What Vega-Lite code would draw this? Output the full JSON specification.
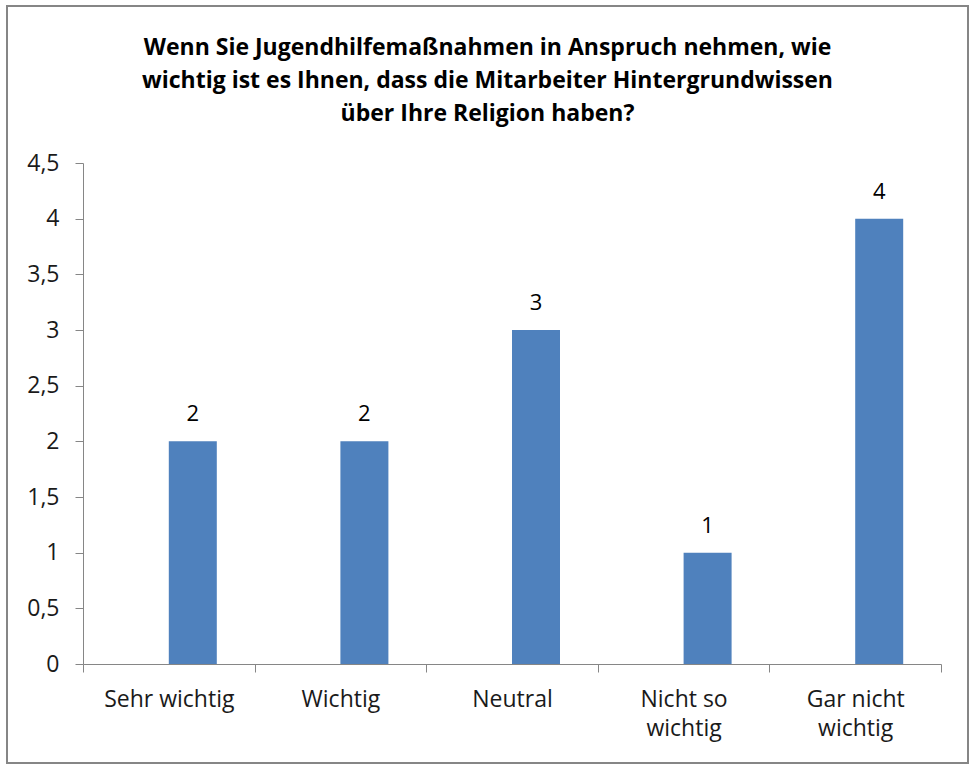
{
  "$schema": "https://vega.github.io/schema/vega-lite/v6.json",
  "width": 961,
  "height": 757,
  "autosize": {"type": "none"},
  "padding": {"left": 7, "top": 6, "right": 2, "bottom": 2},
  "background": "white",
  "title": {
    "text": ["Wenn Sie Jugendhilfemaßnahmen in Anspruch nehmen, wie", "wichtig ist es Ihnen, dass die Mitarbeiter Hintergrundwissen", "über Ihre Religion haben?"],
    "anchor": "middle",
    "frame": "group",
    "orient": "top",
    "font": "Open Sans",
    "fontSize": 23,
    "fontWeight": "bold",
    "color": "#000000",
    "lineHeight": 33,
    "baseline": "top",
    "offset": -120
  },
  "config": {"view": {"stroke": "#868686", "strokeWidth": 2}},
  "data": {"values": [
    {"kategorie": "Sehr wichtig", "reihe": "Anzahl", "wert": 2},
    {"kategorie": "Wichtig", "reihe": "Anzahl", "wert": 2},
    {"kategorie": "Neutral", "reihe": "Anzahl", "wert": 3},
    {"kategorie": "Nicht so wichtig", "reihe": "Anzahl", "wert": 1},
    {"kategorie": "Gar nicht wichtig", "reihe": "Anzahl", "wert": 4}
  ]},
  "encoding": {
    "x": {
      "field": "kategorie", "type": "nominal", "sort": null,
      "scale": {"range": [76, 934], "paddingInner": 0, "paddingOuter": 0},
      "axis": {
        "orient": "bottom", "offset": -99, "title": null, "grid": false,
        "tickBand": "extent", "tickSize": 8, "tickColor": "#868686", "domainColor": "#868686",
        "labelAngle": 0, "labelFont": "Open Sans", "labelFontSize": 23, "labelColor": "#1a1a1a",
        "labelPadding": 16, "labelLineHeight": 29, "labelFlush": false, "labelOverlap": false, "labelLimit": 300,
        "labelExpr": "datum.value == 'Nicht so wichtig' ? ['Nicht so', 'wichtig'] : datum.value == 'Gar nicht wichtig' ? ['Gar nicht', 'wichtig'] : datum.value"
      }
    },
    "xOffset": {
      "field": "reihe", "type": "nominal",
      "scale": {"domain": ["leer", "Anzahl"], "paddingInner": 0, "paddingOuter": 0.7875}
    },
    "y": {
      "field": "wert", "type": "quantitative",
      "scale": {"domain": [0, 4.5], "range": [658, 157], "nice": false, "zero": true},
      "axis": {
        "orient": "left", "offset": -76, "title": null, "grid": false,
        "values": [0, 0.5, 1, 1.5, 2, 2.5, 3, 3.5, 4, 4.5],
        "tickSize": 8, "tickColor": "#868686", "domainColor": "#868686",
        "labelFont": "Open Sans", "labelFontSize": 23, "labelColor": "#1a1a1a", "labelPadding": 16,
        "labelExpr": "replace(toString(datum.value), '.', ',')"
      }
    }
  },
  "layer": [
    {"mark": {"type": "bar", "color": "#4F81BD"}},
    {
      "mark": {"type": "text", "baseline": "alphabetic", "dy": -20, "font": "Open Sans", "fontSize": 22, "color": "#000000"},
      "encoding": {"text": {"field": "wert", "type": "quantitative"}}
    }
  ]
}
